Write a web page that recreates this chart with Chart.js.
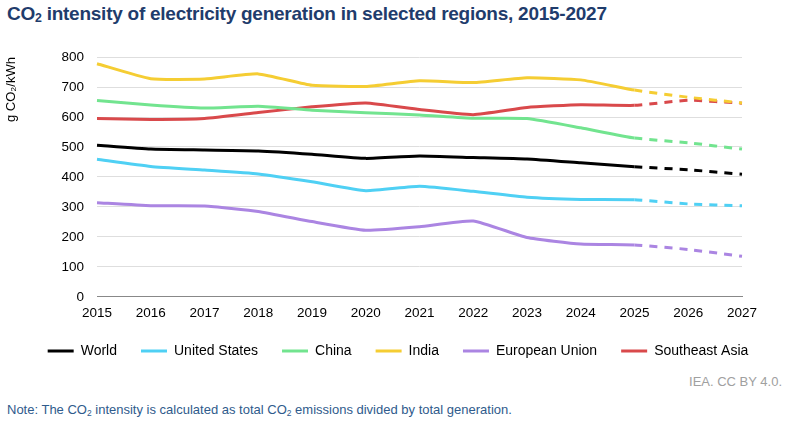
<!DOCTYPE html>
<html>
<head>
<meta charset="utf-8">
<script src="https://cdn.jsdelivr.net/npm/chart.js@4"></script>
<style>
  body { margin: 0; width: 792px; height: 422px; background: #fff; font-family: "Liberation Sans", Arial, sans-serif; position: relative; overflow: hidden; }
  #title { position: absolute; left: 7px; top: 3px; font-size: 19px; letter-spacing: -0.25px; font-weight: bold; color: #1f3c6c; }
  #title sub, #note sub { font-size: 0.65em; vertical-align: -0.2em; }
  #wrap { position: absolute; left: 0; top: 36px; width: 792px; height: 332px; }
  #source { position: absolute; right: 10px; top: 374px; font-size: 13px; color: #a0a0a0; }
  #note { position: absolute; left: 7px; top: 402px; font-size: 13px; color: #2f5b8c; }
</style>
</head>
<body>
<div id="title">CO<sub>2</sub> intensity of electricity generation in selected regions, 2015-2027</div>
<div id="wrap"><canvas id="chart"></canvas></div>
<div id="source">IEA. CC BY 4.0.</div>
<div id="note">Note: The CO<sub>2</sub> intensity is calculated as total CO<sub>2</sub> emissions divided by total generation.</div>
<script>
var years = ['2015', '2016', '2017', '2018', '2019', '2020', '2021', '2022', '2023', '2024', '2025', '2026', '2027'];
var world = [506, 493, 490, 487, 476, 462, 470, 465, 460, 447, 434, 424, 409];
var unitedStates = [459, 435, 423, 410, 384, 354, 369, 352, 332, 325, 324, 310, 304];
var china = [655, 640, 630, 636, 623, 614, 607, 596, 595, 564, 530, 514, 493];
var india = [778, 728, 727, 744, 706, 702, 721, 715, 731, 724, 690, 666, 647];
var europeanUnion = [314, 304, 303, 285, 251, 222, 234, 253, 198, 176, 173, 158, 135];
var southeastAsia = [595, 592, 595, 615, 634, 647, 625, 608, 632, 641, 639, 656, 646];
var forecastFrom = 10; // 2025 onwards is dashed

function series(label, data, color) {
    return {
        label: label,
        data: data,
        borderColor: color,
        backgroundColor: color,
        borderWidth: 3,
        pointRadius: 0,
        tension: 0.15,
        segment: {
            borderDash: function (ctx) {
                return ctx.p0DataIndex >= forecastFrom ? [8, 7] : undefined;
            }
        }
    };
}

var font = '"Liberation Sans", Arial, sans-serif';
var ctx = document.getElementById('chart').getContext('2d');
new Chart(ctx, {
    type: 'line',
    data: {
        labels: years,
        datasets: [
            series('World', world, '#000000'),
            series('United States', unitedStates, '#4fd0f4'),
            series('China', china, '#72e48f'),
            series('India', india, '#f5cd33'),
            series('European Union', europeanUnion, '#ab85e2'),
            series('Southeast Asia', southeastAsia, '#d9494b')
        ]
    },
    options: {
        responsive: true,
        maintainAspectRatio: false,
        animation: false,
        layout: { padding: { left: 4, right: 0, top: 7, bottom: 0 } },
        plugins: {
            legend: {
                position: 'bottom',
                labels: {
                    usePointStyle: true,
                    pointStyle: 'line',
                    pointStyleWidth: 26,
                    boxHeight: 3,
                    color: '#000',
                    padding: 24,
                    font: { family: font, size: 14 }
                }
            },
            tooltip: { enabled: false }
        },
        scales: {
            x: {
                grid: { display: false, drawOnChartArea: false, drawTicks: true, tickLength: 5, color: '#888' },
                border: { color: '#888', width: 1 },
                offset: false,
                afterFit: function (scale) { scale.height -= 4; },
                ticks: { color: '#000', padding: 3, maxRotation: 0, font: { family: font, size: 13.5 } }
            },
            y: {
                min: 0,
                max: 800,
                afterFit: function (scale) { scale.width = 93; },
                ticks: { stepSize: 100, color: '#000', padding: 13, font: { family: font, size: 13.5 } },
                grid: { color: '#dedede', drawTicks: false },
                border: { display: false },
                title: {
                    display: true,
                    text: 'g CO\u2082/kWh',
                    align: 'end',
                    color: '#000',
                    padding: { top: 0, bottom: 4 },
                    font: { family: font, size: 13 }
                }
            },
            // empty right axis only reserves the margin on the right of the plot
            spacer: {
                position: 'right',
                min: 0,
                max: 800,
                afterFit: function (scale) { scale.width = 50; },
                ticks: { display: false },
                grid: { display: false },
                border: { display: false }
            }
        }
    }
});
</script>
</body>
</html>
